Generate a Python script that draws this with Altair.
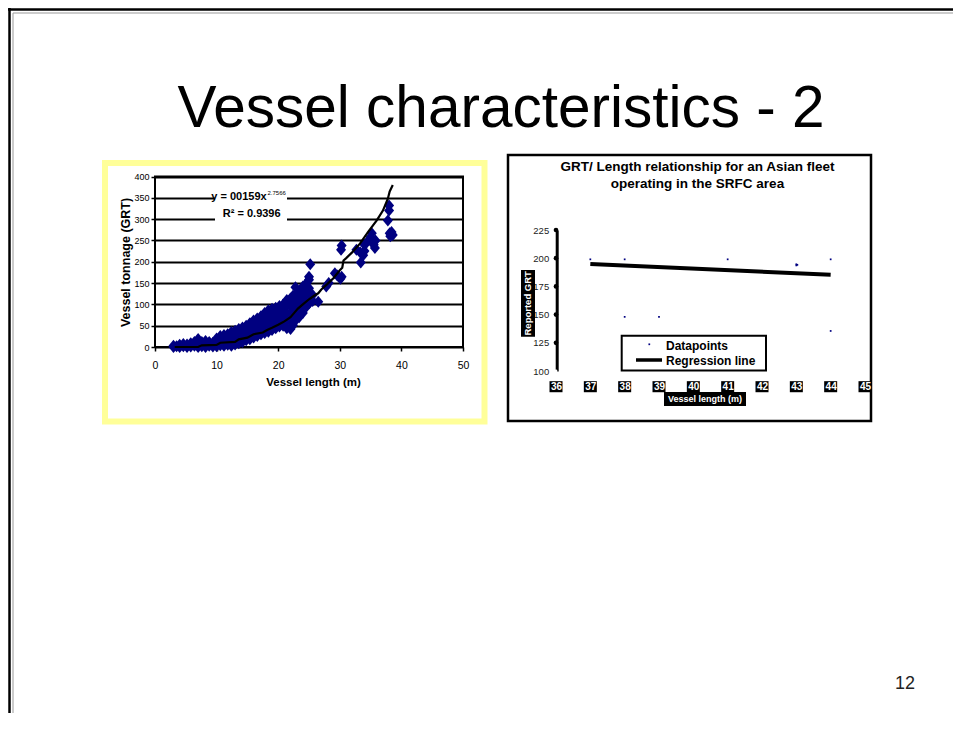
import altair as alt
import pandas as pd

# ---------------- Left chart: vessel length vs tonnage ----------------
LENGTH_M = [
    3.0, 3.0, 3.5, 4.0, 4.0, 4.6, 4.6, 5.2, 5.2, 5.8, 5.8, 6.4, 6.4,
    7.0, 7.0, 7.0, 7.6, 7.6, 8.2, 8.2, 8.2, 8.8, 8.8, 9.4, 9.4,
    10.0, 10.0, 10.0, 10.6, 10.6, 10.6, 11.2, 11.2, 11.2, 11.8, 11.8, 11.8,
    12.4, 12.4, 12.4, 12.4, 13.0, 13.0, 13.0, 13.0, 13.6, 13.6, 13.6, 13.6,
    14.2, 14.2, 14.2, 14.2, 14.8, 14.8, 14.8, 14.8, 15.4, 15.4, 15.4, 15.4,
    16.0, 16.0, 16.0, 16.0, 16.6, 16.6, 16.6, 16.6, 17.2, 17.2, 17.2, 17.2,
    17.8, 17.8, 17.8, 17.8, 18.4, 18.4, 18.4, 18.4, 19.0, 19.0, 19.0, 19.0,
    19.6, 19.6, 19.6, 19.6, 20.2, 20.2, 20.2, 20.2, 20.8, 20.8, 20.8, 20.8,
    21.4, 21.4, 21.4, 21.4, 21.4, 22.0, 22.0, 22.0, 22.0, 22.0, 22.4, 22.4, 22.4, 22.4, 22.4,
    22.8, 22.8, 22.8, 22.8, 22.8, 23.4, 23.4, 23.4, 23.4, 24.0, 24.0, 24.0, 24.0, 24.0,
    24.6, 24.6, 24.6, 24.6, 25.0, 25.0, 25.0, 25.0, 25.0, 25.2, 25.6, 25.6, 26.5,
    27.8, 28.2, 29.2, 29.6, 30.1, 30.3, 30.2, 30.3, 32.7, 33.3, 33.4, 33.8, 34.0, 34.0,
    34.4, 35.0, 35.2, 35.5, 35.7, 35.8, 37.8, 38.0, 38.0, 38.1, 38.2, 38.4, 38.6,
]
TONNAGE_GRT = [
    0, 3, 2, 0, 5, 2, 7, 0, 6, 1, 9, 3, 12,
    0, 10, 19, 2, 12, 0, 8, 14, 3, 12, 1, 10,
    2, 12, 20, 4, 16, 26, 3, 14, 28, 5, 18, 30,
    3, 15, 28, 35, 6, 18, 32, 38, 9, 22, 35, 42,
    12, 25, 38, 46, 16, 30, 44, 50, 18, 32, 46, 56,
    22, 36, 50, 62, 26, 40, 55, 67, 30, 44, 58, 72,
    33, 48, 64, 80, 36, 52, 70, 86, 40, 56, 74, 90,
    44, 60, 78, 92, 48, 64, 82, 96, 50, 68, 86, 100,
    44, 62, 80, 98, 110, 42, 60, 78, 96, 114, 51, 70, 90, 108, 120,
    62, 82, 100, 120, 140, 70, 90, 108, 126, 80, 98, 116, 134, 142,
    95, 112, 130, 150, 102, 118, 138, 158, 165, 194, 108, 122, 106,
    142, 150, 173, 168, 160, 165, 228, 238, 228, 222, 198, 215, 225, 240,
    246, 258, 267, 240, 232, 250, 297, 320, 332, 267, 260, 270, 263,
]
FIT_LENGTH_M = [3.2, 7.0, 7.6, 10.0, 10.6, 13.0, 13.6, 15.0, 16.0, 17.5, 18.2, 19.0,
                20.0, 21.0, 22.0, 22.6, 23.2, 24.0, 25.0, 26.0, 26.5, 27.0, 28.0, 29.0,
                30.0, 30.4, 30.6, 31.0, 32.0, 33.3, 34.6, 36.0, 37.0, 37.8, 38.1, 38.6]
FIT_TONNAGE_GRT = [0, 0, 4, 5, 10, 12, 18, 22, 30, 34, 40, 45,
                   52, 60, 70, 80, 90, 100, 112, 122, 126, 135, 148, 162,
                   180, 186, 203, 208, 222, 243, 270, 297, 320, 348, 365, 380]
LEFT_X_TICKS = [0, 10, 20, 30, 40, 50]
LEFT_Y_TICKS = [0, 50, 100, 150, 200, 250, 300, 350, 400]
EQUATION = "y = 00159x"
EQUATION_EXP = "2.7566"
R_SQUARED = "R² = 0.9396"

# ---------------- Right chart: Asian fleet ----------------
ASIAN_LENGTH_M = [37, 38, 41, 44, 38, 39, 43, 43, 43.03, 44]
ASIAN_GRT = [199, 199, 199, 199, 148, 148, 193.6, 194.6, 194.1, 135.5]
REG_LENGTH_M = [37, 44]
REG_GRT = [194.8, 185.4]
RIGHT_X_TICKS = [36, 37, 38, 39, 40, 41, 42, 43, 44, 45]
RIGHT_Y_TICKS = [100, 125, 150, 175, 200, 225]
RIGHT_TITLE = ["GRT/ Length relationship for an Asian fleet", "operating in the SRFC area"]
LEGEND_LABELS = ["Datapoints", "Regression line"]

assert len(LENGTH_M) == len(TONNAGE_GRT)
assert len(FIT_LENGTH_M) == len(FIT_TONNAGE_GRT)

W, H = 945, 705
SANS = "Liberation Sans, Arial, sans-serif"
NARROW = "Liberation Sans Narrow, Arial Narrow, Liberation Sans, sans-serif"
NAVY = "#000080"
one = pd.DataFrame({"k": [0]})


def box(x, x2, y, y2, **mk):
    return alt.Chart(one).mark_rect(**mk).encode(
        x=alt.value(x), x2=alt.value(x2), y=alt.value(y), y2=alt.value(y2))


def label(text, x, y, **mk):
    return alt.Chart(one).mark_text(text=text, **mk).encode(x=alt.value(x), y=alt.value(y))


def hline(x, x2, y, **mk):
    return alt.Chart(one).mark_rule(**mk).encode(x=alt.value(x), x2=alt.value(x2), y=alt.value(y))


def vline(x, y, y2, **mk):
    return alt.Chart(one).mark_rule(**mk).encode(x=alt.value(x), y=alt.value(y), y2=alt.value(y2))


# ---------------- left layer ----------------
lx = alt.Scale(domain=[0, 50], range=[147, 455], nice=False, zero=False)
ly = alt.Scale(domain=[0, 400], range=[339, 168.5], nice=False, zero=False)
ax_lx = alt.Axis(orient="bottom", offset=339 - H, values=LEFT_X_TICKS, grid=False, domain=False,
                 ticks=True, tickSize=4, tickColor="black", tickWidth=1.5,
                 labelFont=NARROW, labelFontSize=10.5, labelColor="black", labelPadding=14.5,
                 labelBaseline="middle", labelFlush=False, labelOverlap=False,
                 title="Vessel length (m)", titleFont=NARROW, titleFontSize=11.5,
                 titleFontWeight="bold", titleColor="black", titleX=305, titleY=35,
                 titleAlign="center", titleBaseline="middle", titleAngle=0)
ax_ly = alt.Axis(orient="left", offset=-147, values=LEFT_Y_TICKS, grid=True, gridColor="black",
                 gridWidth=2, gridOpacity=1, domain=False, ticks=True, tickSize=4,
                 tickColor="black", tickWidth=1.5, labelFont=NARROW, labelFontSize=9,
                 labelColor="black", labelPadding=2, labelOverlap=False,
                 title="Vessel tonnage (GRT)", titleFont=SANS, titleFontSize=12.5,
                 titleFontWeight="bold", titleColor="black", titleAngle=270, titleX=-30,
                 titleY=254, titleAlign="center", titleBaseline="middle")


def LX(f):
    return alt.X(f"{f}:Q", scale=lx, axis=ax_lx)


def LY(f):
    return alt.Y(f"{f}:Q", scale=ly, axis=ax_ly)


frame_df = pd.DataFrame({"x": [LEFT_X_TICKS[0]], "x2": [LEFT_X_TICKS[-1]],
                         "y": [LEFT_Y_TICKS[0]], "y2": [LEFT_Y_TICKS[-1]]})
left_frame = alt.Chart(frame_df).mark_rect(fillOpacity=0, stroke="black", strokeWidth=2).encode(
    x=LX("x"), x2=alt.X2("x2"), y=LY("y"), y2=alt.Y2("y2"))
scatter = alt.Chart(pd.DataFrame({"x": LENGTH_M, "y": TONNAGE_GRT})).mark_point(
    shape="M0,-1.2L1,0L0,1.2L-1,0Z", filled=True, size=100, color=NAVY, opacity=1
).encode(x=LX("x"), y=LY("y"))
fit = alt.Chart(pd.DataFrame({"x": FIT_LENGTH_M, "y": FIT_TONNAGE_GRT})).mark_line(
    color="black", strokeWidth=2.2).encode(x=LX("x"), y=LY("y"))
left = alt.layer(left_frame, scatter, fit)

# ---------------- right layer ----------------
rx = alt.Scale(domain=[36, 45], range=[548, 857], nice=False, zero=False)
ry = alt.Scale(domain=[100, 225], range=[363, 222], nice=False, zero=False)
ax_rx = alt.Axis(orient="bottom", offset=363 - H, values=RIGHT_X_TICKS, grid=False, domain=False,
                 ticks=False, tickSize=0, labelFont=NARROW, labelFontSize=10,
                 labelFontWeight="bold", labelColor="white", labelPadding=15.7,
                 labelBaseline="middle", labelFlush=False, labelOverlap=False, zindex=1,
                 title=None)
ax_ry = alt.Axis(orient="left", offset=-548.7, values=RIGHT_Y_TICKS, grid=False, domain=True,
                 domainColor="black", domainWidth=3, ticks=False, tickSize=0,
                 labelFont=NARROW, labelFontSize=9.5, labelColor="#222", labelPadding=8,
                 labelOverlap=False, title=None)


def RX(f):
    return alt.X(f"{f}:Q", scale=rx, axis=ax_rx)


def RY(f):
    return alt.Y(f"{f}:Q", scale=ry, axis=ax_ry)


label_bg = alt.Chart(pd.DataFrame({"x": RIGHT_X_TICKS})).mark_point(
    shape="M-1,-0.85L1,-0.85L1,0.85L-1,0.85Z", filled=True, size=169, color="black", opacity=1
).encode(x=RX("x"), y=alt.value(378.7))
tick_dots = alt.Chart(pd.DataFrame({"x": [RIGHT_X_TICKS[0]] * (len(RIGHT_Y_TICKS) - 1),
                                    "y": RIGHT_Y_TICKS[1:]})).mark_point(
    shape="circle", filled=True, size=22, color="black", opacity=1).encode(x=RX("x"), y=RY("y"))
zero_dot = alt.Chart(pd.DataFrame({"x": [RIGHT_X_TICKS[0]], "y": [RIGHT_Y_TICKS[0]]})).mark_point(
    shape="circle", filled=True, size=8, color="white", opacity=1).encode(x=RX("x"), y=RY("y"))
asian_pts = alt.Chart(pd.DataFrame({"x": ASIAN_LENGTH_M, "y": ASIAN_GRT})).mark_point(
    shape="square", filled=True, size=3, color=NAVY, opacity=1).encode(x=RX("x"), y=RY("y"))
reg = alt.Chart(pd.DataFrame({"x": REG_LENGTH_M, "y": REG_GRT})).mark_line(
    color="black", strokeWidth=4).encode(x=RX("x"), y=RY("y"))
right = alt.layer(label_bg, tick_dots, zero_dot, asian_pts, reg)

# ---------------- slide decorations ----------------
back = [
    hline(0, W, 1.5, color="black", strokeWidth=2.5),
    vline(1.5, 0, H, color="black", strokeWidth=2.5),
    hline(5, W, 5, color="#999999", strokeWidth=1),
    vline(5, 5, H, color="#999999", strokeWidth=1),
    label("Vessel characteristics - 2", W / 2 + 20.5, 119, font=SANS, fontSize=58.5,
          color="black", align="center", baseline="alphabetic"),
    box(97, 476.5, 155, 413.5, fillOpacity=0, stroke="#FFFF99", strokeWidth=6),
    box(500, 863, 147, 413, fillOpacity=0, stroke="black", strokeWidth=2.5),
    label("12", 897, 681, font=SANS, fontSize=18, color="#222222", align="center",
          baseline="alphabetic"),
]
front = [
    box(207, 279, 182, 216, fill="white"),
    label(EQUATION, 258.7, 191.5, font=NARROW, fontSize=11, fontWeight="bold", color="black",
          align="right", baseline="alphabetic"),
    label(EQUATION_EXP, 259.5, 187, font=NARROW, fontSize=6, color="black",
          align="left", baseline="alphabetic"),
    label(R_SQUARED, 243.7, 208.5, font=NARROW, fontSize=11, fontWeight="bold", color="black",
          align="center", baseline="alphabetic"),
    label(RIGHT_TITLE[0], 689.5, 162.5, font=SANS, fontSize=13.5, fontWeight="bold",
          color="black", align="center", baseline="alphabetic"),
    label(RIGHT_TITLE[1], 689.5, 180, font=SANS, fontSize=13.5, fontWeight="bold",
          color="black", align="center", baseline="alphabetic"),
    box(513, 527, 262, 328.7, fill="black"),
    label("Reported GRT", 520, 295.3, font=NARROW, fontSize=9.5, fontWeight="bold",
          color="white", angle=270, align="center", baseline="middle"),
    box(656, 738, 384, 398, fill="black"),
    label("Vessel length (m)", 697, 391, font=NARROW, fontSize=9, fontWeight="bold",
          color="white", align="center", baseline="middle"),
    box(613.7, 758, 327.7, 362.5, fill="white", stroke="black", strokeWidth=2),
    alt.Chart(one).mark_point(shape="square", filled=True, size=3, color=NAVY, opacity=1).encode(
        x=alt.value(641.3), y=alt.value(336.3)),
    hline(628, 654, 352, color="black", strokeWidth=3.5),
    label(LEGEND_LABELS[0], 658, 342, font=SANS, fontSize=12, fontWeight="bold",
          color="black", align="left", baseline="alphabetic"),
    label(LEGEND_LABELS[1], 658, 357, font=SANS, fontSize=12, fontWeight="bold",
          color="black", align="left", baseline="alphabetic"),
]

chart = alt.layer(*back, left, right, *front).resolve_scale(
    x="independent", y="independent"
).resolve_axis(
    x="independent", y="independent"
).properties(
    width=W, height=H, autosize=alt.AutoSizeParams(type="none"), padding=0, background="white"
).configure_view(strokeWidth=0)

chart.save("out.html", embed_options={"renderer": "svg", "actions": False})
